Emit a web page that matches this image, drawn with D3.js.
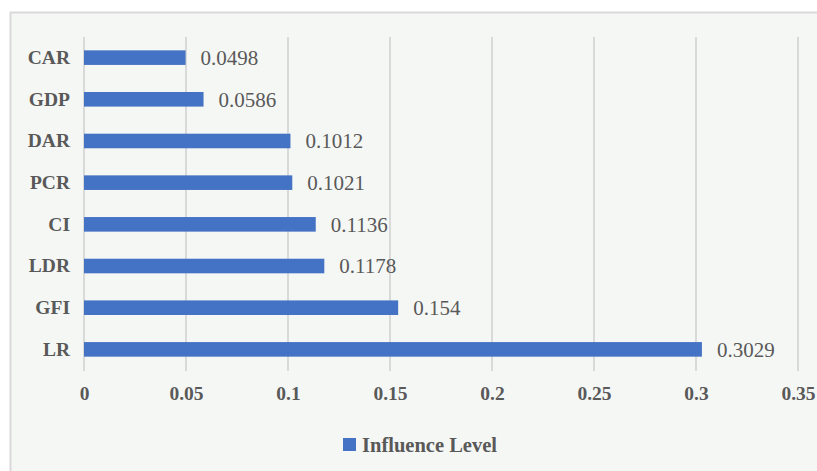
<!DOCTYPE html>
<html>
<head>
<meta charset="utf-8">
<script src="https://cdn.jsdelivr.net/npm/d3@7"></script>
<style>
  html, body { margin: 0; padding: 0; background: #fff; }
  svg { display: block; }
  text { font-family: 'Liberation Serif', 'Times New Roman', serif; }
</style>
</head>
<body>
<svg id="chart"></svg>
<script>
const categories = ['CAR', 'GDP', 'DAR', 'PCR', 'CI', 'LDR', 'GFI', 'LR'];
const values = [0.0498, 0.0586, 0.1012, 0.1021, 0.1136, 0.1178, 0.154, 0.3029];
const tickValues = [0, 0.05, 0.1, 0.15, 0.2, 0.25, 0.3, 0.35];
const tickLabels = ['0', '0.05', '0.1', '0.15', '0.2', '0.25', '0.3', '0.35'];
const seriesName = 'Influence Level';

const W = 817, H = 471;
const barColor = '#4472c4';
const textColor = '#595959';

const svg = d3.select('#chart').attr('width', W).attr('height', H);

// chart frame
svg.append('rect')
  .attr('x', 10.5).attr('y', 12.5)
  .attr('width', W + 20).attr('height', H + 20)
  .attr('fill', '#f5f7f5')
  .attr('stroke', '#d9d9d9')
  .attr('stroke-width', 2);

const x = d3.scaleLinear().domain([0, 0.35]).range([84, 798]);
const y = d3.scaleBand().domain(categories).range([37, 370]).paddingInner(0.65).paddingOuter(0.32);

// gridlines
svg.append('g')
  .selectAll('line')
  .data(tickValues)
  .enter().append('line')
  .attr('x1', d => x(d)).attr('x2', d => x(d))
  .attr('y1', 37).attr('y2', 371)
  .attr('stroke', '#d9d9d9')
  .attr('stroke-width', 2);

// bars
svg.append('g')
  .selectAll('rect')
  .data(values)
  .enter().append('rect')
  .attr('x', x(0))
  .attr('y', (d, i) => y(categories[i]))
  .attr('width', d => x(d) - x(0))
  .attr('height', y.bandwidth())
  .attr('fill', barColor);

// value labels
svg.append('g')
  .selectAll('text')
  .data(values)
  .enter().append('text')
  .attr('x', d => x(d) + 15)
  .attr('y', (d, i) => y(categories[i]) + y.bandwidth() / 2)
  .attr('dy', '0.35em')
  .attr('font-size', 21)
  .attr('fill', textColor)
  .text(d => String(d));

// category axis
const yAxis = svg.append('g')
  .attr('transform', 'translate(70,0)')
  .call(d3.axisLeft(y).tickSize(0).tickPadding(0));
yAxis.select('.domain').remove();
yAxis.selectAll('text')
  .attr('font-family', null)
  .attr('font-size', 19.5)
  .attr('font-weight', 'bold')
  .attr('fill', textColor);

// value axis
const xAxis = svg.append('g')
  .attr('transform', 'translate(0,386)')
  .call(d3.axisBottom(x).tickValues(tickValues).tickFormat((d, i) => tickLabels[i]).tickSize(0).tickPadding(0));
xAxis.select('.domain').remove();
xAxis.selectAll('text')
  .attr('font-family', null)
  .attr('font-size', 19.5)
  .attr('font-weight', 'bold')
  .attr('fill', textColor);

// legend
const legend = svg.append('g').attr('transform', 'translate(343,438)');
legend.append('rect')
  .attr('width', 13).attr('height', 13)
  .attr('fill', barColor);
legend.append('text')
  .attr('x', 19).attr('y', 6.5)
  .attr('dy', '0.35em')
  .attr('font-size', 20.5)
  .attr('font-weight', 'bold')
  .attr('fill', textColor)
  .text(seriesName);
</script>
</body>
</html>
